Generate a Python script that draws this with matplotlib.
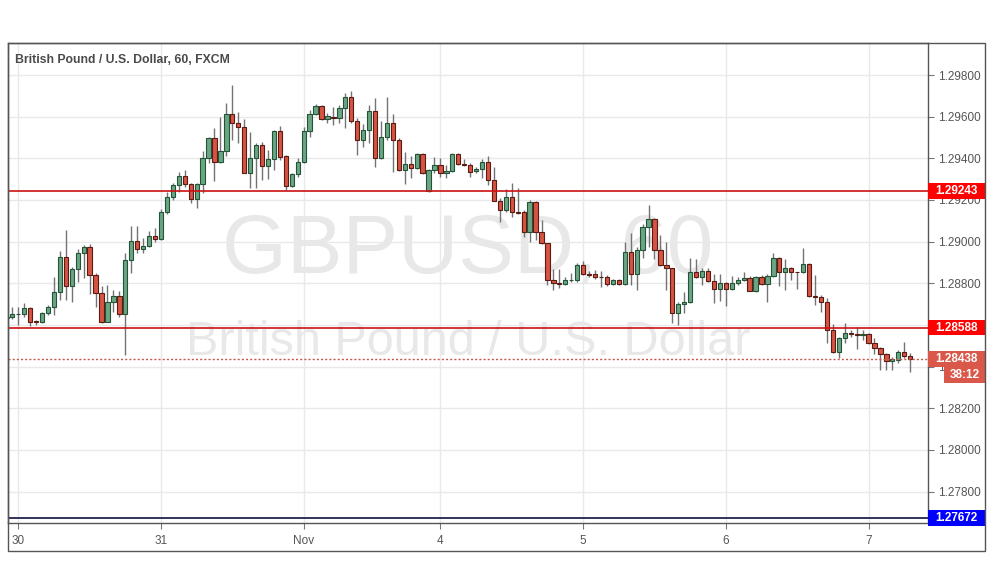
import matplotlib
matplotlib.use("Agg")
import matplotlib.pyplot as plt
from matplotlib.patches import Rectangle
from matplotlib.transforms import blended_transform_factory

plt.rcParams['font.family'] = ['Liberation Sans', 'DejaVu Sans']

# hourly GBPUSD candles, first bar sits two hours before the "30" tick
first_bar = -2
opens = [1.28632, 1.28637, 1.28651, 1.28651, 1.28680, 1.28619, 1.28616, 1.28656, 1.28685, 1.28757,
         1.28925, 1.28789, 1.28867, 1.28944, 1.28973, 1.28842, 1.28752, 1.28616, 1.28709, 1.28739,
         1.28653, 1.28912, 1.29002, 1.28963, 1.28979, 1.29029, 1.29011, 1.29144, 1.29213, 1.29272,
         1.29315, 1.29275, 1.29206, 1.29275, 1.29400, 1.29496, 1.29384, 1.29435, 1.29613, 1.29568,
         1.29549, 1.29331, 1.29400, 1.29462, 1.29365, 1.29397, 1.29531, 1.29411, 1.29269, 1.29323,
         1.29381, 1.29531, 1.29613, 1.29651, 1.29587, 1.29600, 1.29592, 1.29640, 1.29693, 1.29581,
         1.29488, 1.29536, 1.29629, 1.29400, 1.29501, 1.29568, 1.29488, 1.29344, 1.29371, 1.29352,
         1.29421, 1.29245, 1.29344, 1.29366, 1.29328, 1.29338, 1.29421, 1.29373, 1.29366, 1.29339,
         1.29349, 1.29381, 1.29296, 1.29197, 1.29152, 1.29213, 1.29141, 1.29141, 1.29045, 1.29189,
         1.29048, 1.28992, 1.28816, 1.28800, 1.28795, 1.28816, 1.28816, 1.28886, 1.28845, 1.28845,
         1.28832, 1.28832, 1.28795, 1.28816, 1.28795, 1.28949, 1.28843, 1.28960, 1.29069, 1.29109,
         1.28960, 1.28888, 1.28872, 1.28656, 1.28701, 1.28712, 1.28853, 1.28829, 1.28859, 1.28813,
         1.28771, 1.28800, 1.28771, 1.28800, 1.28816, 1.28827, 1.28765, 1.28832, 1.28795, 1.28837,
         1.28920, 1.28856, 1.28872, 1.28853, 1.28853, 1.28891, 1.28741, 1.28736, 1.28709, 1.28576,
         1.28469, 1.28539, 1.28563, 1.28555, 1.28554, 1.28555, 1.28512, 1.28488, 1.28461, 1.28427,
         1.28432, 1.28469, 1.28451]
highs = [1.28643, 1.28688, 1.28688, 1.28704, 1.28688, 1.28624, 1.28664, 1.28696, 1.28829, 1.28957,
         1.29056, 1.28880, 1.28963, 1.28984, 1.28989, 1.28851, 1.28787, 1.28792, 1.28768, 1.28763,
         1.28944, 1.29075, 1.29075, 1.29016, 1.29053, 1.29064, 1.29155, 1.29240, 1.29283, 1.29336,
         1.29344, 1.29280, 1.29280, 1.29437, 1.29504, 1.29544, 1.29600, 1.29667, 1.29752, 1.29624,
         1.29587, 1.29528, 1.29475, 1.29480, 1.29440, 1.29536, 1.29555, 1.29416, 1.29331, 1.29400,
         1.29549, 1.29632, 1.29661, 1.29654, 1.29619, 1.29648, 1.29656, 1.29712, 1.29725, 1.29592,
         1.29563, 1.29656, 1.29688, 1.29579, 1.29693, 1.29613, 1.29499, 1.29429, 1.29411, 1.29424,
         1.29424, 1.29347, 1.29405, 1.29400, 1.29368, 1.29424, 1.29424, 1.29395, 1.29376, 1.29360,
         1.29397, 1.29411, 1.29360, 1.29208, 1.29251, 1.29280, 1.29259, 1.29152, 1.29200, 1.29197,
         1.29104, 1.28995, 1.28867, 1.28867, 1.28832, 1.28848, 1.28899, 1.28906, 1.28861, 1.28864,
         1.28861, 1.28840, 1.28821, 1.28819, 1.29000, 1.29040, 1.28976, 1.29085, 1.29176, 1.29112,
         1.29032, 1.29000, 1.28875, 1.28712, 1.28760, 1.28920, 1.28915, 1.28872, 1.28872, 1.28845,
         1.28845, 1.28808, 1.28835, 1.28832, 1.28856, 1.28835, 1.28835, 1.28840, 1.28845, 1.28944,
         1.28925, 1.28915, 1.28877, 1.28856, 1.28968, 1.28896, 1.28840, 1.28744, 1.28728, 1.28605,
         1.28544, 1.28611, 1.28576, 1.28592, 1.28576, 1.28563, 1.28536, 1.28496, 1.28464, 1.28448,
         1.28480, 1.28520, 1.28464]
lows = [1.28629, 1.28627, 1.28600, 1.28640, 1.28595, 1.28598, 1.28611, 1.28648, 1.28648, 1.28720,
        1.28720, 1.28709, 1.28808, 1.28824, 1.28747, 1.28688, 1.28608, 1.28613, 1.28664, 1.28640,
        1.28456, 1.28851, 1.28944, 1.28944, 1.28976, 1.29000, 1.29008, 1.29133, 1.29200, 1.29240,
        1.29264, 1.29187, 1.29160, 1.29232, 1.29379, 1.29291, 1.29376, 1.29411, 1.29488, 1.29475,
        1.29328, 1.29256, 1.29259, 1.29296, 1.29299, 1.29344, 1.29392, 1.29248, 1.29264, 1.29312,
        1.29379, 1.29501, 1.29608, 1.29584, 1.29571, 1.29560, 1.29571, 1.29544, 1.29571, 1.29416,
        1.29456, 1.29472, 1.29357, 1.29397, 1.29488, 1.29336, 1.29341, 1.29275, 1.29304, 1.29347,
        1.29325, 1.29240, 1.29328, 1.29312, 1.29304, 1.29336, 1.29370, 1.29363, 1.29312, 1.29328,
        1.29304, 1.29272, 1.29194, 1.29096, 1.29144, 1.29120, 1.29133, 1.29024, 1.29000, 1.29008,
        1.28989, 1.28792, 1.28768, 1.28776, 1.28792, 1.28808, 1.28808, 1.28840, 1.28832, 1.28822,
        1.28784, 1.28787, 1.28792, 1.28792, 1.28792, 1.28792, 1.28768, 1.28920, 1.28976, 1.28915,
        1.28883, 1.28768, 1.28611, 1.28600, 1.28656, 1.28707, 1.28824, 1.28792, 1.28808, 1.28707,
        1.28717, 1.28691, 1.28768, 1.28792, 1.28813, 1.28763, 1.28760, 1.28792, 1.28709, 1.28832,
        1.28787, 1.28768, 1.28816, 1.28771, 1.28848, 1.28736, 1.28696, 1.28664, 1.28515, 1.28464,
        1.28440, 1.28515, 1.28544, 1.28483, 1.28528, 1.28509, 1.28461, 1.28384, 1.28384, 1.28384,
        1.28416, 1.28443, 1.28376]
closes = [1.28640, 1.28651, 1.28653, 1.28680, 1.28613, 1.28613, 1.28656, 1.28685, 1.28757, 1.28925,
          1.28789, 1.28867, 1.28944, 1.28973, 1.28842, 1.28752, 1.28616, 1.28709, 1.28739, 1.28653,
          1.28912, 1.29002, 1.28963, 1.28979, 1.29029, 1.29011, 1.29144, 1.29213, 1.29272, 1.29315,
          1.29275, 1.29206, 1.29275, 1.29400, 1.29496, 1.29384, 1.29435, 1.29613, 1.29568, 1.29549,
          1.29331, 1.29400, 1.29462, 1.29365, 1.29397, 1.29531, 1.29408, 1.29269, 1.29323, 1.29381,
          1.29531, 1.29613, 1.29651, 1.29587, 1.29603, 1.29592, 1.29640, 1.29693, 1.29581, 1.29488,
          1.29536, 1.29629, 1.29400, 1.29501, 1.29568, 1.29488, 1.29344, 1.29371, 1.29352, 1.29421,
          1.29328, 1.29344, 1.29366, 1.29328, 1.29338, 1.29421, 1.29373, 1.29366, 1.29336, 1.29349,
          1.29381, 1.29296, 1.29197, 1.29152, 1.29213, 1.29141, 1.29138, 1.29045, 1.29189, 1.29048,
          1.28992, 1.28816, 1.28803, 1.28795, 1.28816, 1.28818, 1.28886, 1.28845, 1.28840, 1.28829,
          1.28830, 1.28795, 1.28816, 1.28795, 1.28949, 1.28843, 1.28960, 1.29069, 1.29109, 1.28960,
          1.28888, 1.28872, 1.28656, 1.28701, 1.28712, 1.28853, 1.28829, 1.28859, 1.28813, 1.28771,
          1.28800, 1.28771, 1.28800, 1.28816, 1.28824, 1.28765, 1.28832, 1.28795, 1.28837, 1.28920,
          1.28856, 1.28872, 1.28853, 1.28852, 1.28891, 1.28741, 1.28736, 1.28709, 1.28576, 1.28469,
          1.28539, 1.28563, 1.28555, 1.28554, 1.28555, 1.28512, 1.28488, 1.28461, 1.28427, 1.28435,
          1.28472, 1.28451, 1.28438]

day_ticks = [0, 24, 48, 71, 95, 119, 143]
day_labels = ["30", "31", "Nov", "4", "5", "6", "7"]
price_ticks = [1.278, 1.280, 1.282, 1.284, 1.286, 1.288, 1.290, 1.292, 1.294, 1.296, 1.298]
# 1.28600 sits fully under the 1.28588 label in the original, so it shows no text
hidden_ticks = [1.286]

upper_level = 1.29243
lower_level = 1.28588
last_price = 1.28438
bottom_level = 1.27672
countdown = "38:12"

title = "British Pound / U.S. Dollar, 60, FXCM"
symbol_mark = "GBPUSD, 60"
name_mark = "British Pound / U.S. Dollar"

up_fill, up_edge = "#6ba583", "#225437"
down_fill, down_edge = "#d75442", "#5b1a13"
wick_color = "#737375"

fig = plt.figure(figsize=(9.91, 5.88), dpi=100)
fig.patch.set_facecolor("white")
ax = fig.add_axes([8 / 991, 65 / 588, 920 / 991, 480 / 588])
ax.set_xlim(-1.73, 153.0)
ax.set_ylim(1.276496, 1.299536)

xs = list(range(first_bar, first_bar + len(opens)))
ups = [c >= o for o, c in zip(opens, closes)]
ax.vlines(xs, lows, highs, color=wick_color, lw=1, zorder=3)
ax.bar(xs, [max(abs(c - o), 0.000012) for o, c in zip(opens, closes)],
       bottom=[min(o, c) for o, c in zip(opens, closes)], width=0.72,
       color=[up_fill if u else down_fill for u in ups],
       edgecolor=[up_edge if u else down_edge for u in ups], linewidth=0.8, zorder=4)

# watermarks
ax.text(0.5, 0.568, symbol_mark, transform=ax.transAxes, ha="center", va="center",
        fontsize=60, color="#e8e8e8", zorder=1,
        family=["Liberation Sans Narrow", "Liberation Sans"])
ax.text(0.5, 0.377, name_mark, transform=ax.transAxes, ha="center", va="center",
        fontsize=35, color="#e8e8e8", zorder=1)

# level lines
ax.axhline(upper_level, color="#cc1111", lw=1.2, zorder=5)
ax.axhline(lower_level, color="#cc1111", lw=1.2, zorder=5)
ax.axhline(last_price, color="#c45a4c", lw=1, ls=(0, (1.5, 1.5)), zorder=5)
ax.axhline(bottom_level, color="#101040", lw=1.2, zorder=5)

ax.grid(color="#e9e9e9", lw=1)
ax.set_axisbelow(True)

ax.set_xticks(day_ticks, day_labels)
ax.yaxis.tick_right()
ax.set_yticks(price_ticks, ["" if p in hidden_ticks else f"{p:.5f}" for p in price_ticks])
ax.tick_params(axis="x", length=4, color="#777777", labelcolor="#555555", labelsize=8.5, pad=5)
ax.tick_params(axis="y", length=4, color="#777777", labelcolor="#555555", labelsize=8.5, pad=3)
for s in ax.spines.values():
    s.set_color("#555555")
    s.set_linewidth(1)

# outer frame around chart and price scale
fig.add_artist(Rectangle((8 / 991, 37 / 588), 977 / 991, 508 / 588, fill=False,
                         edgecolor="#555555", lw=1, transform=fig.transFigure))

ax.text(7 / 920, 1 - 17 / 480, title, transform=ax.transAxes, ha="left", va="center",
        fontsize=8.8, fontweight="bold", color="#4a4a4a", zorder=6)

# price labels on the scale
trans = blended_transform_factory(ax.transAxes, ax.transData)
box_h = 0.00076
box_w = 57 / 920


def price_box(price, face, x0=1.0, w=box_w, dy=0.0, text=None):
    y = price - dy
    ax.add_patch(Rectangle((x0, y - box_h / 2), w, box_h, transform=trans,
                           facecolor=face, edgecolor="none", clip_on=False, zorder=10))
    ax.text(x0 + w / 2, y, text if text else f"{price:.5f}", transform=trans,
            ha="center", va="center", color="white", fontsize=8.5, fontweight="bold",
            clip_on=False, zorder=11)


price_box(upper_level, "#ff0000")
price_box(lower_level, "#ff0000")
price_box(last_price, "#d9584a")
price_box(last_price, "#d9584a", x0=1 + 16 / 920, w=41 / 920, dy=box_h + 0.00004, text=countdown)
price_box(bottom_level, "#0000ff")

fig.savefig("out.png", dpi=100, facecolor="white")
